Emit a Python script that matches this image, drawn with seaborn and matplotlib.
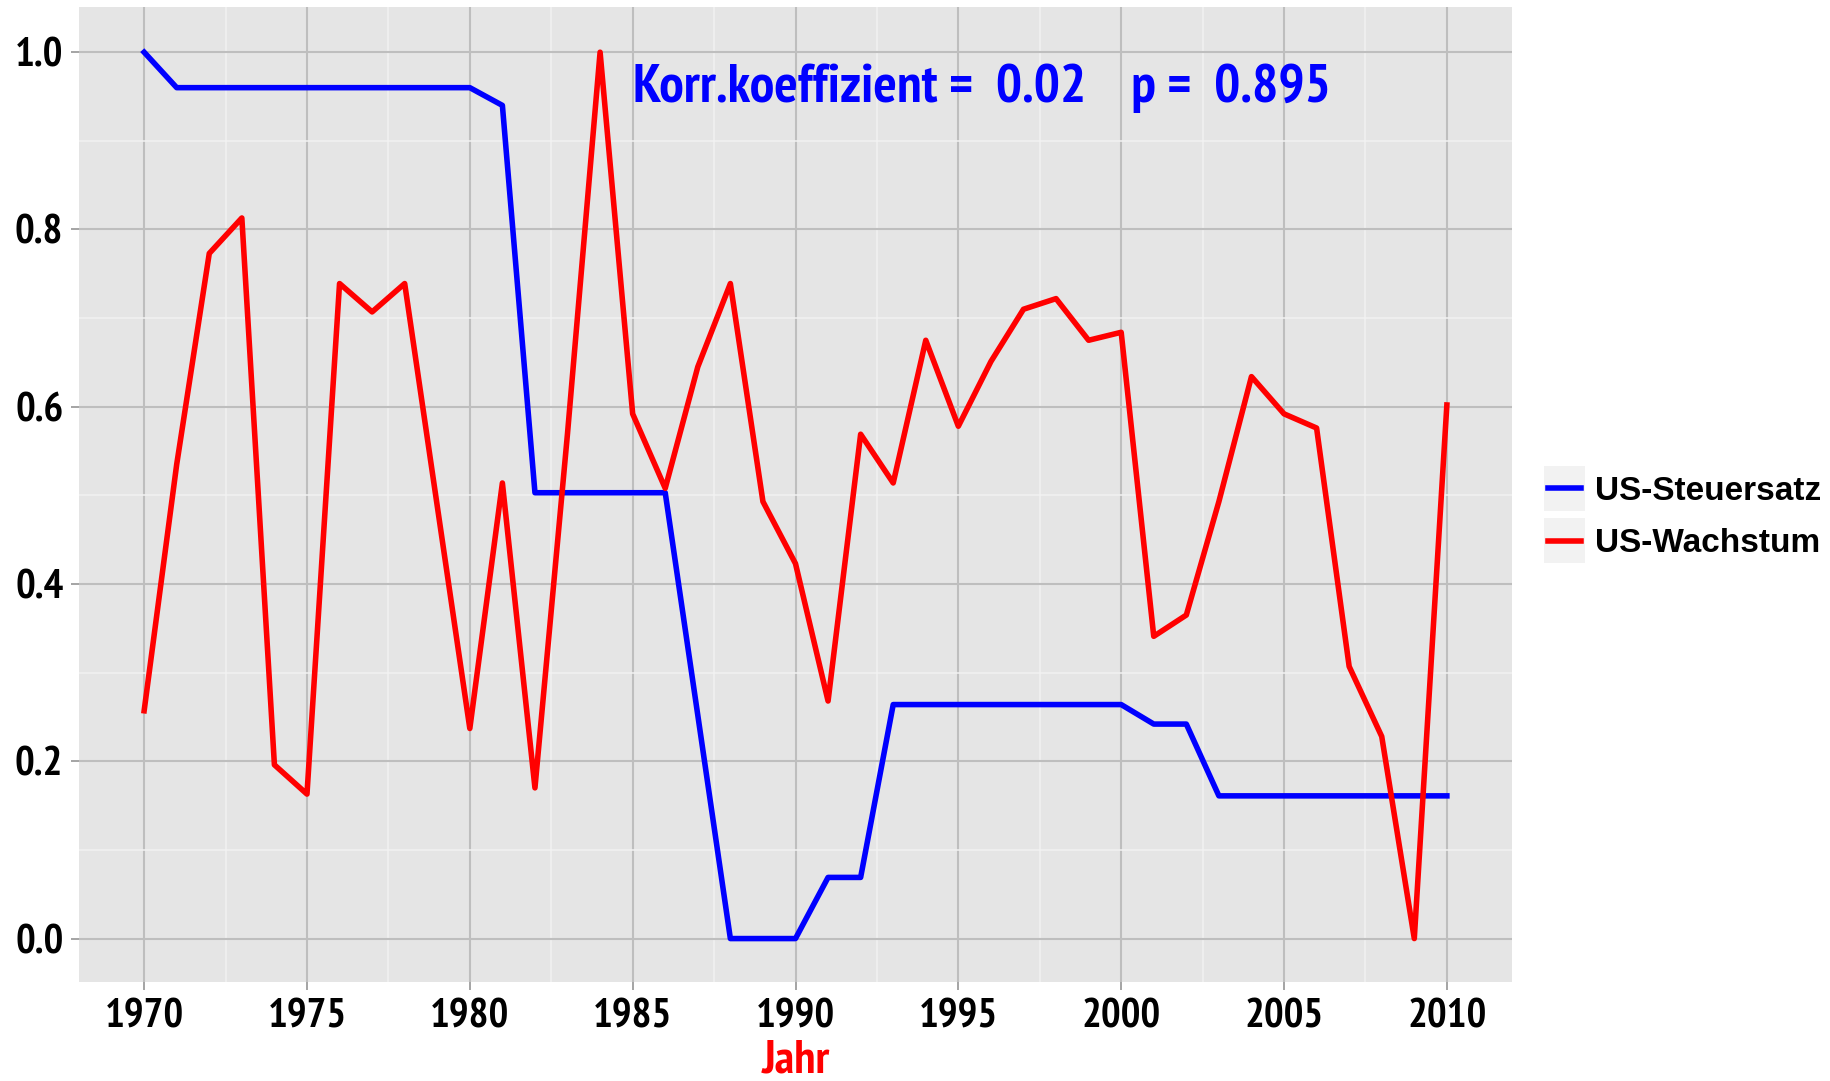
import matplotlib
matplotlib.use('Agg')
import matplotlib.pyplot as plt
import matplotlib.ticker as mticker
from matplotlib import font_manager
from matplotlib.patches import Rectangle
import pandas as pd
import seaborn as sns

# Daten (normiert 0..1)
jahre = list(range(1970, 2011))
steuersatz = [1.0, 0.96, 0.96, 0.96, 0.96, 0.96, 0.96, 0.96, 0.96, 0.96,
              0.96, 0.94, 0.503, 0.503, 0.503, 0.503, 0.503, 0.252, 0.0, 0.0,
              0.0, 0.069, 0.069, 0.264, 0.264, 0.264, 0.264, 0.264, 0.264, 0.264,
              0.264, 0.242, 0.242, 0.161, 0.161, 0.161, 0.161, 0.161, 0.161, 0.161,
              0.161]
wachstum = [0.257, 0.535, 0.773, 0.813, 0.196, 0.163, 0.739, 0.707, 0.739, 0.488,
            0.237, 0.514, 0.170, 0.57, 1.0, 0.592, 0.508, 0.645, 0.739, 0.493,
            0.423, 0.268, 0.569, 0.514, 0.675, 0.578, 0.651, 0.710, 0.722, 0.675,
            0.684, 0.341, 0.365, 0.493, 0.634, 0.592, 0.576, 0.307, 0.228, 0.0,
            0.602]
serien = ['US-Steuersatz', 'US-Wachstum']
farben = ['#0000FF', '#FF0000']
x_ticks = [1970, 1975, 1980, 1985, 1990, 1995, 2000, 2005, 2010]
y_ticks = [0.0, 0.2, 0.4, 0.6, 0.8, 1.0]
korr_text = 'Korr.koeffizient =  0.02    p =  0.895'

df = pd.DataFrame({
    'Jahr': jahre * 2,
    'Wert': steuersatz + wachstum,
    'Serie': [serien[0]] * len(jahre) + [serien[1]] * len(jahre),
})

# schmale Schrift mit echtem Bold-Schnitt suchen
def gewicht(w):
    return w if isinstance(w, int) else font_manager.weight_dict.get(w, 400)

fett = {f.name for f in font_manager.fontManager.ttflist if gewicht(f.weight) >= 700}
kandidaten = ['Liberation Sans Narrow', 'Arial Narrow', 'PT Sans Narrow', 'Roboto Condensed',
              'Fira Sans Condensed', 'IBM Plex Sans Condensed', 'Archivo Narrow',
              'Asap Condensed', 'Encode Sans Condensed', 'Barlow Semi Condensed',
              'Sofia Sans Condensed', 'Saira SemiCondensed', 'Saira Condensed']
schmal = next((k for k in kandidaten if k in fett), 'Archivo Narrow')
plt.rcParams['font.family'] = [schmal, 'DejaVu Sans']
plt.rcParams['font.weight'] = 'bold'

fig = plt.figure(figsize=(18.31, 10.81), dpi=100)
ax = fig.add_axes([79 / 1831, 1 - 982 / 1081, (1512 - 79) / 1831, (982 - 7) / 1081])
ax.set_facecolor('#E5E5E5')

sns.lineplot(data=df, x='Jahr', y='Wert', hue='Serie', hue_order=serien,
             palette=farben, linewidth=4.0, ax=ax, legend=True)

ax.set_xlim(1968, 2012)
ax.set_ylim(-0.049, 1.051)
ax.set_xticks(x_ticks)
ax.set_yticks(y_ticks)
ax.xaxis.set_minor_locator(mticker.MultipleLocator(2.5))
ax.yaxis.set_minor_locator(mticker.MultipleLocator(0.1))
ax.yaxis.set_major_formatter(mticker.FormatStrFormatter('%.1f'))
ax.set_axisbelow(True)
ax.grid(which='minor', color='#F2F2F2', linewidth=1.1)
ax.grid(which='major', color='#BEBEBE', linewidth=1.5)
for s in ax.spines.values():
    s.set_visible(False)
ax.tick_params(which='major', length=5.8, width=1.1, color='#8C8C8C',
               labelsize=30, labelcolor='black')
ax.tick_params(axis='x', pad=6)
ax.tick_params(axis='y', pad=5.5)
ax.tick_params(which='minor', length=0)

ax.set_xlabel('Jahr', color='red', fontsize=30, fontweight='bold', labelpad=3)
ax.set_ylabel('')

anno = ax.text(1985.0, 0.959, korr_text, color='#0000FF', fontsize=38, fontweight='bold',
               ha='left', va='center')

# Legende rechts ausserhalb
handles, labels = ax.get_legend_handles_labels()
ax.get_legend().remove()
leg = fig.legend(handles, labels, loc='center left',
                 bbox_to_anchor=(1548 / 1831, 1 - 517.5 / 1081),
                 frameon=False, borderpad=0, borderaxespad=0,
                 handlelength=1.0, handletextpad=0.4, labelspacing=0.65,
                 prop={'family': ['Liberation Sans', 'DejaVu Sans'],
                       'weight': 'bold', 'size': 24})
for h in leg.legend_handles:
    h.set_linewidth(4.0)

# Schriftgroessen an die Breiten im Original anpassen
fig.canvas.draw()
r = fig.canvas.get_renderer()
anno.set_fontsize(38 * 697 / anno.get_window_extent(r).width)
lab1970 = ax.get_xticklabels()[0]
tick_size = 30 * 79 / lab1970.get_window_extent(r).width
ax.tick_params(labelsize=tick_size)
ax.xaxis.label.set_fontsize(tick_size * 1.14)

fig.canvas.draw()
inv = fig.transFigure.inverted()
for h in leg.legend_handles:
    bb = h.get_window_extent()
    cx = (bb.x0 + bb.x1) / 2
    cy = (bb.y0 + bb.y1) / 2
    (x0, y0) = inv.transform((cx - 20.5, cy - 22.5))
    (x1, y1) = inv.transform((cx + 20.5, cy + 22.5))
    fig.add_artist(Rectangle((x0, y0), x1 - x0, y1 - y0, transform=fig.transFigure,
                             facecolor='#F2F2F2', edgecolor='none', zorder=1))

fig.savefig('out.png', dpi=100)
